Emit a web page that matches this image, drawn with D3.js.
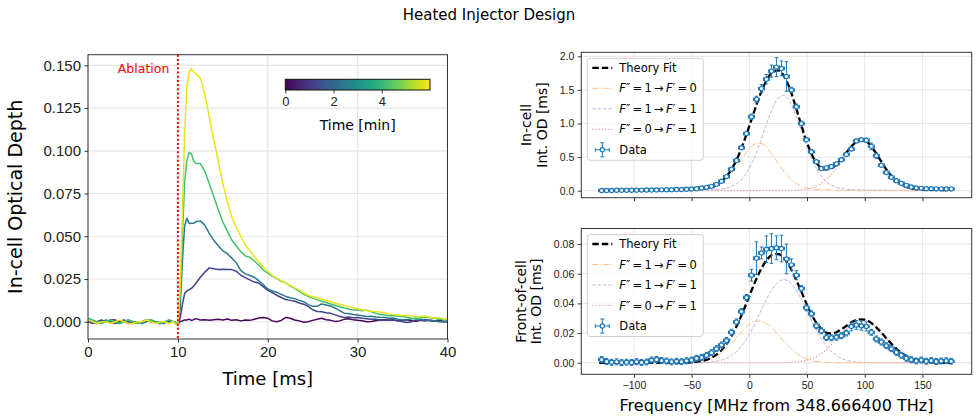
<!DOCTYPE html>
<html>
<head>
<meta charset="utf-8">
<script src="https://cdn.jsdelivr.net/npm/d3@7"></script>
<style>
  body { margin: 0; background: #fff; }
  svg { font-family: "DejaVu Sans", sans-serif; }
  .tick line { stroke: #333; }
  .tick text { fill: #222; }
</style>
</head>
<body>
<svg id="fig" width="979" height="416"></svg>
<script>
// ---------------- left panel: in-cell optical depth traces ----------------
const timeMs = [0,0.5,1,1.5,2,2.5,3,3.5,4,4.5,5,5.5,6,6.5,7,7.5,8,8.5,9,9.5,
  10,10.25,10.5,10.75,11,11.25,11.5,11.75,
  12,12.5,13,13.5,14,14.5,15,15.5,16,16.5,17,17.5,18,18.5,19,19.5,20,20.5,21,21.5,22,22.5,23,23.5,24,24.5,
  25,25.5,26,26.5,27,27.5,28,28.5,29,29.5,30,30.5,31,31.5,32,32.5,33,33.5,34,34.5,35,35.5,36,36.5,37,37.5,38,38.5,39,39.5,40];

// minutes after start for each trace (colour from viridis)
const scanMinutes = [0.1, 1.2, 2.4, 4.2, 5.8];

const odScanA = [0.000,0.000,-0.001,0.000,0.000,0.001,0.001,0.000,0.000,-0.001,0.000,0.000,0.000,0.001,0.000,0.000,-0.001,0.000,0.000,0.000,
  -0.001,0.000,0.0005,0.001,0.0010,0.0015,0.0008,0.0012,
  0.0018,0.0010,0.0012,0.0008,0.0012,0.0015,0.0010,0.0016,0.0008,0.0012,0.0005,0.0010,0.0008,0.0015,0.0022,0.0025,0.0020,0.0005,0.0000,0.0008,0.0025,0.0020,0.0010,0.0005,-0.0003,0.0000,
  0.0008,0.0015,0.0020,0.0012,0.0008,0.0002,0.0005,0.0014,0.0018,0.0012,0.0008,0.0006,0.0000,0.0002,0.0006,0.0010,0.0012,0.0008,0.0010,0.0005,0.0008,0.0012,0.0006,0.0003,0.0008,0.0012,0.0006,0.0004,0.0008,0.0005,0.0003];

const odScanB = [0.000,-0.001,0.000,0.001,0.000,0.000,-0.001,0.000,0.001,0.000,-0.001,0.000,0.000,0.001,0.000,0.000,-0.001,0.000,0.000,0.000,
  -0.002,0.002,0.010,0.0165,0.018,0.0187,0.0195,0.0208,
  0.0225,0.026,0.029,0.0315,0.031,0.0305,0.0307,0.0306,0.0305,0.0295,0.0272,0.0258,0.0245,0.0232,0.0226,0.0205,0.0183,0.0170,0.0155,0.0142,0.0130,0.0125,0.0120,0.0110,0.0102,0.0090,
  0.0070,0.0060,0.0058,0.0052,0.0049,0.0040,0.0032,0.0025,0.0028,0.0024,0.0025,0.0020,0.0018,0.0014,0.0014,0.0010,0.0012,0.0008,0.0010,0.0006,0.0000,-0.0005,0.0000,0.0010,0.0008,0.0004,0.0010,0.0006,0.0002,0.0000,-0.0002];

const odScanC = [0.001,0.000,-0.001,0.000,0.001,0.000,0.000,-0.001,0.000,0.001,0.000,0.000,-0.001,0.000,0.001,0.000,0.000,-0.001,0.001,0.000,
  -0.001,0.008,0.035,0.056,0.0605,0.0575,0.0576,0.0576,
  0.0585,0.059,0.0565,0.0515,0.0476,0.0445,0.0415,0.0398,0.0372,0.0345,0.0300,0.0280,0.0270,0.0260,0.0240,0.0218,0.0192,0.0180,0.0172,0.0160,0.0148,0.0140,0.0135,0.0125,0.0117,0.0100,
  0.0090,0.0090,0.0104,0.0098,0.0092,0.0080,0.0065,0.0050,0.0048,0.0042,0.0040,0.0035,0.0030,0.0032,0.0028,0.0026,0.0025,0.0020,0.0022,0.0015,0.0010,0.0012,0.0018,0.0020,0.0014,0.0010,0.0008,0.0004,0.0002,0.0000,0.0000];

const odScanD = [0.002,0.001,0.000,-0.001,0.000,0.001,0.000,-0.001,0.000,0.001,0.000,-0.001,0.000,0.001,0.001,0.000,-0.001,0.000,0.001,0.000,
  -0.001,0.015,0.050,0.082,0.094,0.099,0.0985,0.094,
  0.0925,0.0925,0.088,0.0805,0.0731,0.0654,0.0585,0.053,0.0478,0.0443,0.041,0.0385,0.0377,0.0355,0.0332,0.0302,0.0285,0.0265,0.0254,0.0236,0.0228,0.0208,0.0195,0.0178,0.0160,0.0148,
  0.0138,0.0128,0.0120,0.0112,0.0104,0.0096,0.0088,0.0080,0.0075,0.0068,0.0070,0.0064,0.0068,0.0060,0.0050,0.0042,0.0040,0.0035,0.0036,0.0032,0.0030,0.0026,0.0020,0.0018,0.0022,0.0026,0.0025,0.0020,0.0016,0.0012,0.0010];

const odScanE = [0.001,0.000,-0.001,0.000,0.000,-0.001,0.000,0.001,0.000,-0.001,-0.001,0.000,0.000,0.001,0.000,-0.001,0.000,0.000,-0.001,0.000,
  -0.002,0.020,0.062,0.110,0.138,0.146,0.148,0.146,
  0.145,0.1425,0.133,0.1195,0.1063,0.0935,0.081,0.070,0.0614,0.055,0.050,0.045,0.0415,0.038,0.035,0.032,0.0295,0.027,0.0254,0.0240,0.0225,0.0213,0.0198,0.0186,0.0168,0.0155,
  0.0146,0.0140,0.0132,0.0124,0.0117,0.0108,0.0102,0.0095,0.0090,0.0082,0.0076,0.0070,0.0066,0.0062,0.0060,0.0057,0.0052,0.0046,0.0042,0.0040,0.0036,0.0037,0.0033,0.0030,0.0031,0.0034,0.0026,0.0022,0.0024,0.0018,0.0015];

const odTicks = [0, 0.025, 0.05, 0.075, 0.1, 0.125, 0.15];
const timeTicks = [0, 10, 20, 30, 40];
const minuteTicks = [0, 2, 4];

// ---------------- right panels: spectra ----------------
const freqMHz = [-128.00,-123.67,-119.34,-115.01,-110.69,-106.36,-102.03,-97.70,-93.37,-89.04,
  -84.71,-80.39,-76.06,-71.73,-67.40,-63.07,-58.74,-54.41,-50.09,-45.76,
  -41.43,-37.10,-32.77,-28.44,-24.11,-19.79,-15.46,-11.13,-6.80,-2.47,
  1.86,6.19,10.51,14.84,19.17,23.50,27.83,32.16,36.49,40.81,
  45.14,49.47,53.80,58.13,62.46,66.79,71.11,75.44,79.77,84.10,
  88.43,92.76,97.09,101.41,105.74,110.07,114.40,118.73,123.06,127.39,
  131.71,136.04,140.37,144.70,149.03,153.36,157.69,162.01,166.34,170.67,175.00];
const freqErr = 2.6;

const inCellOD = [0.004,0.005,0.005,0.006,0.006,0.007,0.007,0.008,0.009,0.010,
  0.010,0.012,0.013,0.014,0.016,0.017,0.019,0.021,0.025,0.031,
  0.040,0.050,0.065,0.095,0.140,0.210,0.320,0.450,0.640,0.850,
  1.100,1.360,1.520,1.660,1.780,1.840,1.820,1.700,1.500,1.250,
  1.000,0.760,0.580,0.430,0.330,0.340,0.360,0.400,0.460,0.540,
  0.620,0.740,0.760,0.750,0.660,0.520,0.380,0.270,0.200,0.150,
  0.110,0.080,0.055,0.040,0.035,0.030,0.030,0.028,0.028,0.027,0.028];
const inCellErr = [0.012,0.012,0.012,0.012,0.012,0.012,0.012,0.012,0.012,0.012,
  0.012,0.012,0.012,0.012,0.012,0.012,0.012,0.012,0.012,0.012,
  0.02,0.02,0.02,0.02,0.02,0.02,0.02,0.02,0.02,0.02,
  0.04,0.045,0.06,0.07,0.09,0.14,0.11,0.22,0.04,0.04,
  0.035,0.03,0.025,0.025,0.025,0.025,0.025,0.025,0.025,0.025,
  0.025,0.025,0.025,0.03,0.05,0.04,0.02,0.02,0.02,0.02,
  0.015,0.015,0.015,0.015,0.015,0.015,0.015,0.015,0.015,0.015,0.015];

const frontOD = [0.0022,0.0008,0.0003,0.0006,0.0001,0.0004,0.0002,0.0007,0.0002,0.0005,
  0.0018,0.0022,0.0015,0.0012,0.0006,0.0010,0.0007,0.0013,0.0018,0.0030,
  0.0036,0.0050,0.0068,0.0095,0.0120,0.0150,0.0205,0.0275,0.0345,0.0440,
  0.0590,0.0705,0.0740,0.0765,0.0770,0.0775,0.0770,0.0700,0.0660,0.0590,
  0.0500,0.0370,0.0330,0.0250,0.0215,0.0170,0.0168,0.0172,0.0182,0.0200,
  0.0245,0.0255,0.0250,0.0245,0.0205,0.0160,0.0140,0.0115,0.0095,0.0070,
  0.0050,0.0030,0.0020,0.0012,0.0018,0.0010,0.0015,0.0008,0.0012,0.0014,0.0010];
const frontErr = [0.002,0.002,0.002,0.002,0.002,0.002,0.002,0.002,0.002,0.002,
  0.002,0.002,0.002,0.002,0.002,0.002,0.002,0.002,0.002,0.002,
  0.002,0.002,0.002,0.002,0.002,0.002,0.002,0.002,0.002,0.002,
  0.004,0.011,0.004,0.009,0.010,0.008,0.009,0.010,0.004,0.003,
  0.002,0.002,0.002,0.002,0.002,0.002,0.002,0.002,0.002,0.002,
  0.003,0.003,0.003,0.003,0.002,0.002,0.002,0.002,0.002,0.002,
  0.002,0.002,0.002,0.002,0.002,0.002,0.002,0.002,0.002,0.002,0.002];

// theory curves, read on a 5 MHz grid
const fitFreq = [-130,-125,-120,-115,-110,-105,-100,-95,-90,-85,-80,-75,-70,-65,-60,-55,-50,-45,-40,-35,-30,-25,-20,-15,-10,-5,
  0,5,10,15,20,25,30,35,40,45,50,55,60,65,70,75,80,85,90,95,100,105,110,115,120,125,130,135,140,145,150,155,160,165,170,175];

const inCellFit = [0.0047,0.0049,0.0054,0.0058,0.0062,0.0067,0.0072,0.0078,0.0085,0.0093,0.0105,0.0115,0.0126,0.0141,0.0159,0.0178,0.0207,0.0258,0.0344,0.0495,0.0776,0.1277,0.2089,0.330,0.4992,0.7145,
  0.9617,1.219,1.4563,1.6457,1.7642,1.7908,1.7074,1.5215,1.2625,0.978,0.714,0.508,0.375,0.319,0.326,0.381,0.478,0.587,0.6855,0.748,0.7458,0.674,0.5536,0.4165,0.2875,0.1847,0.1119,0.0652,0.0387,0.0241,0.0176,0.0137,0.0113,0.0099,0.009,0.0081];
const inCellF10 = [0.002,0.002,0.0023,0.0025,0.0027,0.003,0.0032,0.0035,0.0038,0.0043,0.005,0.0055,0.006,0.007,0.008,0.009,0.011,0.015,0.022,0.035,0.060,0.102,0.169,0.263,0.381,0.510,
  0.625,0.697,0.704,0.644,0.535,0.407,0.285,0.186,0.114,0.067,0.039,0.024,0.016,0.012,0.009,0.008,0.007,0.006,0.0055,0.005,0.0043,0.0038,0.0035,0.0032,0.003,0.0027,0.0025,0.0023,0.0022,0.002,0.0018,0.0017,0.0016,0.0015,0.0014,0.0013];
const inCellF11 = [0.0022,0.0024,0.0025,0.0027,0.0029,0.003,0.0033,0.0036,0.0039,0.0042,0.0046,0.0051,0.0056,0.0061,0.0068,0.0077,0.0085,0.0095,0.011,0.013,0.016,0.024,0.038,0.065,0.116,0.202,
  0.334,0.519,0.749,0.998,1.225,1.379,1.417,1.329,1.140,0.899,0.653,0.439,0.274,0.162,0.092,0.053,0.031,0.021,0.015,0.012,0.0105,0.0092,0.0081,0.0073,0.0065,0.006,0.0054,0.0049,0.0045,0.0041,0.0038,0.0035,0.0032,0.003,0.0028,0.0026];
const inCellF01 = [0.0005,0.0005,0.0006,0.0006,0.0006,0.0007,0.0007,0.0007,0.0008,0.0008,0.0009,0.0009,0.001,0.001,0.0011,0.0011,0.0012,0.0013,0.0014,0.0015,0.0016,0.0017,0.0019,0.002,0.0022,0.0025,
  0.0027,0.003,0.0033,0.0037,0.0042,0.0048,0.0054,0.0065,0.0085,0.012,0.022,0.045,0.085,0.145,0.225,0.32,0.44,0.56,0.665,0.731,0.731,0.661,0.542,0.406,0.278,0.176,0.104,0.058,0.032,0.018,0.012,0.0085,0.0065,0.0054,0.0048,0.0042];

const frontFit = [0,0,0,0,0,0,0,0,0,0,0,0,0,0,0,0.0001,0.0003,0.0007,0.0014,0.0026,0.0046,0.0077,0.0124,0.0186,0.0263,0.0353,
  0.045,0.0545,0.0628,0.0692,0.0728,0.0733,0.0704,0.0649,0.0569,0.0481,0.039,0.0309,0.0249,0.021,0.0197,0.0204,0.0227,0.0253,0.0279,0.0292,0.029,0.0272,0.0238,0.0198,0.0154,0.0113,0.0077,0.005,0.003,0.0017,0.001,0.0004,0.0002,0.0001,0,0];
const frontF10 = [0,0,0,0,0,0,0,0,0,0,0,0,0,0,0,0.0001,0.0003,0.0006,0.0012,0.0022,0.0038,0.0062,0.0095,0.0136,0.018,0.0223,
  0.0258,0.0279,0.028,0.0263,0.0231,0.0189,0.0144,0.0103,0.0068,0.0042,0.0025,0.0013,0.0007,0.0003,0.0001,0,0,0,0,0,0,0,0,0,0,0,0,0,0,0,0,0,0,0,0,0];
const frontF11 = [0,0,0,0,0,0,0,0,0,0,0,0,0,0,0,0,0,0.0001,0.0002,0.0004,0.0008,0.0015,0.0029,0.005,0.0083,0.013,
  0.0192,0.0266,0.0348,0.0429,0.0497,0.0544,0.056,0.0544,0.0497,0.0429,0.0348,0.0266,0.0192,0.013,0.0083,0.005,0.0029,0.0015,0.0008,0.0004,0.0002,0.0001,0,0,0,0,0,0,0,0,0,0,0,0,0,0];
const frontF01 = [0,0,0,0,0,0,0,0,0,0,0,0,0,0,0,0,0,0,0,0,0,0,0,0,0,0,
  0,0,0,0,0,0,0,0.0002,0.0004,0.001,0.0017,0.003,0.005,0.0077,0.0113,0.0154,0.0198,0.0238,0.0271,0.0288,0.0288,0.0271,0.0238,0.0198,0.0154,0.0113,0.0077,0.005,0.003,0.0017,0.001,0.0004,0.0002,0.0001,0,0];

const freqTicks = [-100, -50, 0, 50, 100, 150];
const inCellTicks = [0, 0.5, 1.0, 1.5, 2.0];
const frontTicks = [0, 0.02, 0.04, 0.06, 0.08];

const svg = d3.select('#fig');
const GRID = '#e5e5e5';
const SPINE = '#333';

svg.append('text')
    .attr('x', 489).attr('y', 20)
    .attr('text-anchor', 'middle')
    .style('font-size', '15px')
    .text('Heated Injector Design');

// draw the four spines of an axes box
function drawFrame(g, x0, x1, y0, y1) {
  g.append('rect')
      .attr('x', x0).attr('y', y0)
      .attr('width', x1 - x0).attr('height', y1 - y0)
      .attr('fill', 'none')
      .attr('stroke', SPINE)
      .attr('stroke-width', 1);
}

// ---------------- left panel ----------------
(function drawTraces() {
  const x = d3.scaleLinear().domain([0, 40]).range([88, 447.5]);
  const y = d3.scaleLinear().domain([-0.0101, 0.1562]).range([339, 54.7]);
  const [x0, x1] = x.range();
  const [y1, y0] = y.range();
  const g = svg.append('g');

  // grid
  g.append('g').selectAll('line').data(timeTicks).join('line')
      .attr('x1', d => x(d)).attr('x2', d => x(d))
      .attr('y1', y0).attr('y2', y1)
      .attr('stroke', GRID).attr('stroke-width', 1.2);
  g.append('g').selectAll('line').data(odTicks).join('line')
      .attr('x1', x0).attr('x2', x1)
      .attr('y1', d => y(d)).attr('y2', d => y(d))
      .attr('stroke', GRID).attr('stroke-width', 1.2);

  g.append('clipPath').attr('id', 'clipL')
    .append('rect').attr('x', x0).attr('y', y0).attr('width', x1 - x0).attr('height', y1 - y0);

  const traces = [odScanA, odScanB, odScanC, odScanD, odScanE].map((vals, i) => ({
    minutes: scanMinutes[i],
    points: timeMs.map((t, j) => [t, vals[j]])
  }));
  const color = d3.scaleSequential(d3.interpolateViridis).domain([0, 6]);
  const line = d3.line().x(d => x(d[0])).y(d => y(d[1]));

  g.append('g').attr('clip-path', 'url(#clipL)')
    .selectAll('path').data(traces).join('path')
      .attr('d', d => line(d.points))
      .attr('fill', 'none')
      .attr('stroke', d => color(d.minutes))
      .attr('stroke-width', 1.5)
      .attr('stroke-linejoin', 'round');

  // ablation marker
  g.append('line')
      .attr('x1', x(10)).attr('x2', x(10))
      .attr('y1', y0).attr('y2', y1)
      .attr('stroke', 'red').attr('stroke-width', 2)
      .attr('stroke-dasharray', '2,2.2');
  g.append('text')
      .attr('x', x(9.05)).attr('y', y(0.1455))
      .attr('text-anchor', 'end')
      .attr('fill', 'red')
      .style('font-size', '12.5px')
      .text('Ablation');

  // axes
  const yAxis = d3.axisLeft(y).tickValues(odTicks).tickFormat(d3.format('.3f'))
      .tickSize(3.5).tickPadding(3.5);
  const xAxis = d3.axisBottom(x).tickValues(timeTicks).tickFormat(d3.format('d'))
      .tickSize(3.5).tickPadding(3.5);
  g.append('g').attr('transform', `translate(${x0},0)`).call(yAxis)
      .call(a => a.select('.domain').remove())
      .selectAll('text').style('font-size', '15px').attr('font-family', null);
  g.append('g').attr('transform', `translate(0,${y1})`).call(xAxis)
      .call(a => a.select('.domain').remove())
      .selectAll('text').style('font-size', '15px').attr('font-family', null);
  drawFrame(g, x0, x1, y0, y1);

  g.append('text')
      .attr('transform', `translate(21.5,${(y0 + y1) / 2}) rotate(-90)`)
      .attr('text-anchor', 'middle')
      .style('font-size', '19px')
      .text('In-cell Optical Depth');
  g.append('text')
      .attr('x', (x0 + x1) / 2).attr('y', 385)
      .attr('text-anchor', 'middle')
      .style('font-size', '18px')
      .text('Time [ms]');

  // colorbar inset
  const cb = { x0: 285.3, x1: 430, y0: 79.3, y1: 90 };
  const cbScale = d3.scaleLinear().domain([0, 6]).range([cb.x0, cb.x1]);
  const grad = svg.append('defs').append('linearGradient').attr('id', 'viridis');
  grad.selectAll('stop').data(d3.range(0, 1.0001, 0.05)).join('stop')
      .attr('offset', d => `${d * 100}%`)
      .attr('stop-color', d => d3.interpolateViridis(d));
  g.append('rect')
      .attr('x', cb.x0).attr('y', cb.y0)
      .attr('width', cb.x1 - cb.x0).attr('height', cb.y1 - cb.y0)
      .attr('fill', 'url(#viridis)')
      .attr('stroke', '#111').attr('stroke-width', 1);
  const cbAxis = d3.axisBottom(cbScale).tickValues(minuteTicks).tickFormat(d3.format('d'))
      .tickSize(3.5).tickPadding(3);
  g.append('g').attr('transform', `translate(0,${cb.y1})`).call(cbAxis)
      .call(a => a.select('.domain').remove())
      .selectAll('text').style('font-size', '13px').attr('font-family', null);
  g.append('text')
      .attr('x', (cb.x0 + cb.x1) / 2).attr('y', 130)
      .attr('text-anchor', 'middle')
      .style('font-size', '14px')
      .text('Time [min]');
})();

// ---------------- right panels ----------------
class SpectrumPanel {

  constructor(_config, _data) {
    this.config = {
      top: _config.top,
      bottom: _config.bottom,
      yDomain: _config.yDomain,
      yTicks: _config.yTicks,
      yFormat: _config.yFormat,
      yLabel: _config.yLabel,
      yLabelX: _config.yLabelX,
      showXLabels: _config.showXLabels || false,
      id: _config.id
    };
    this.data = _data;
    this.initVis();
  }

  initVis() {
    let vis = this;
    vis.x = d3.scaleLinear().domain([-145.6, 192.7]).range([581.3, 971.7]);
    vis.y = d3.scaleLinear().domain(vis.config.yDomain).range([vis.config.bottom, vis.config.top]);
    vis.g = svg.append('g');
    vis.renderVis();
  }

  renderVis() {
    let vis = this;
    const x = vis.x, y = vis.y;
    const [x0, x1] = x.range();
    const y0 = vis.config.top, y1 = vis.config.bottom;
    const g = vis.g;
    const d = vis.data;

    // grid
    g.append('g').selectAll('line').data(freqTicks).join('line')
        .attr('x1', t => x(t)).attr('x2', t => x(t))
        .attr('y1', y0).attr('y2', y1)
        .attr('stroke', GRID).attr('stroke-width', 1);
    g.append('g').selectAll('line').data(vis.config.yTicks).join('line')
        .attr('x1', x0).attr('x2', x1)
        .attr('y1', t => y(t)).attr('y2', t => y(t))
        .attr('stroke', GRID).attr('stroke-width', 1);

    g.append('clipPath').attr('id', vis.config.id)
      .append('rect').attr('x', x0).attr('y', y0).attr('width', x1 - x0).attr('height', y1 - y0);
    const plot = g.append('g').attr('clip-path', `url(#${vis.config.id})`);

    const line = d3.line().x(p => x(p[0])).y(p => y(p[1])).curve(d3.curveMonotoneX);
    const pts = vals => fitFreq.map((f, i) => [f, vals[i]]);

    // components first, then total fit
    const curves = [
      { vals: d.f01, stroke: '#ea9393', width: 1.2, dash: '1.2,2' },
      { vals: d.f11, stroke: '#c9b3de', width: 1, dash: '3.7,1.6' },
      { vals: d.f10, stroke: '#ffbf86', width: 1, dash: '6.4,1.6,1,1.6' },
      { vals: d.fit, stroke: '#000', width: 2.3, dash: '6.5,3' }
    ];
    plot.selectAll('path.fit').data(curves).join('path')
        .attr('class', 'fit')
        .attr('d', c => line(pts(c.vals)))
        .attr('fill', 'none')
        .attr('stroke', c => c.stroke)
        .attr('stroke-width', c => c.width)
        .attr('stroke-dasharray', c => c.dash);

    // data with error bars
    const rows = freqMHz.map((f, i) => ({ f: f, v: d.od[i], e: d.err[i] }));
    const cap = 1.8;
    const pt = plot.selectAll('g.pt').data(rows).join('g').attr('class', 'pt')
        .attr('stroke', '#1f77b4').attr('stroke-width', 1);
    pt.append('line')
        .attr('x1', r => x(r.f - freqErr)).attr('x2', r => x(r.f + freqErr))
        .attr('y1', r => y(r.v)).attr('y2', r => y(r.v));
    pt.append('line')
        .attr('x1', r => x(r.f)).attr('x2', r => x(r.f))
        .attr('y1', r => y(r.v - r.e)).attr('y2', r => y(r.v + r.e));
    pt.append('path')
        .attr('d', r => {
          const xl = x(r.f - freqErr), xr = x(r.f + freqErr), xc = x(r.f);
          const yc = y(r.v), yt = y(r.v + r.e), yb = y(r.v - r.e);
          return `M${xl},${yc - cap}V${yc + cap}M${xr},${yc - cap}V${yc + cap}` +
                 `M${xc - cap},${yt}H${xc + cap}M${xc - cap},${yb}H${xc + cap}`;
        })
        .attr('fill', 'none');
    pt.append('circle')
        .attr('cx', r => x(r.f)).attr('cy', r => y(r.v))
        .attr('r', 2.1)
        .attr('fill', '#fff')
        .attr('stroke-width', 1.2);

    // axes
    const yAxis = d3.axisLeft(y).tickValues(vis.config.yTicks).tickFormat(d3.format(vis.config.yFormat))
        .tickSize(3.5).tickPadding(3.5);
    const xAxis = d3.axisBottom(x).tickValues(freqTicks)
        .tickFormat(vis.config.showXLabels ? d3.format('d') : '')
        .tickSize(3.5).tickPadding(3.5);
    g.append('g').attr('transform', `translate(${x0},0)`).call(yAxis)
        .call(a => a.select('.domain').remove())
        .selectAll('text').style('font-size', '10.5px').attr('font-family', null);
    g.append('g').attr('transform', `translate(0,${y1})`).call(xAxis)
        .call(a => a.select('.domain').remove())
        .selectAll('text').style('font-size', '10.5px').attr('font-family', null);
    drawFrame(g, x0, x1, y0, y1);

    const lab = g.append('text')
        .attr('transform', `translate(${vis.config.yLabelX},${(y0 + y1) / 2}) rotate(-90)`)
        .attr('text-anchor', 'middle')
        .style('font-size', '14px');
    lab.append('tspan').attr('x', 0).attr('dy', 0).text(vis.config.yLabel[0]);
    lab.append('tspan').attr('x', 0).attr('dy', 15.8).text(vis.config.yLabel[1]);

    vis.renderLegend(x0 + 6, y0 + 6);
  }

  renderLegend(lx, ly) {
    let vis = this;
    const g = vis.g.append('g').attr('transform', `translate(${lx},${ly})`);
    g.append('rect')
        .attr('width', 116).attr('height', 102).attr('rx', 3)
        .attr('fill', '#fff').attr('fill-opacity', 0.8)
        .attr('stroke', '#d0d0d0').attr('stroke-width', 1);

    const entries = [
      { label: ['Theory Fit'], stroke: '#000', width: 2.3, dash: '6.5,3' },
      { label: ['1', '0'], stroke: '#ffbf86', width: 1, dash: '6.4,1.6,1,1.6' },
      { label: ['1', '1'], stroke: '#c9b3de', width: 1, dash: '3.7,1.6' },
      { label: ['0', '1'], stroke: '#ea9393', width: 1.2, dash: '1.2,2' },
      { label: ['Data'] }
    ];
    const thin = '\u2009';
    entries.forEach((e, i) => {
      const cy = 9.5 + i * 20.5;
      if (e.stroke) {
        g.append('line')
            .attr('x1', 5).attr('x2', 25).attr('y1', cy).attr('y2', cy)
            .attr('stroke', e.stroke).attr('stroke-width', e.width)
            .attr('stroke-dasharray', e.dash);
      } else {
        const h = g.append('g').attr('stroke', '#1f77b4').attr('stroke-width', 1);
        h.append('path').attr('fill', 'none')
            .attr('d', `M8,${cy}H22M8,${cy - 2}V${cy + 2}M22,${cy - 2}V${cy + 2}` +
                       `M15,${cy - 7}V${cy + 7}M13,${cy - 7}H17M13,${cy + 7}H17`);
        h.append('circle').attr('cx', 15).attr('cy', cy).attr('r', 2.1)
            .attr('fill', '#fff').attr('stroke-width', 1.2);
      }
      const t = g.append('text').attr('x', 32).attr('y', cy + 4).style('font-size', '11.5px');
      if (e.label.length === 1) {
        t.text(e.label[0]);
      } else {
        // transition label in the style of mathtext, with thin spaces
        t.append('tspan').style('font-style', 'italic').text('F');
        t.append('tspan').text(`\u2033${thin}=${thin}${e.label[0]}${thin}\u2192${thin}`);
        t.append('tspan').style('font-style', 'italic').text('F');
        t.append('tspan').text(`\u2032${thin}=${thin}${e.label[1]}`);
      }
    });
  }
}

new SpectrumPanel({
  id: 'clipTop', top: 52.3, bottom: 197.7,
  yDomain: [-0.104, 2.06], yTicks: inCellTicks, yFormat: '.1f',
  yLabel: ['In-cell', 'Int. OD [ms]'], yLabelX: 531
}, { od: inCellOD, err: inCellErr, fit: inCellFit, f10: inCellF10, f11: inCellF11, f01: inCellF01 });

new SpectrumPanel({
  id: 'clipBottom', top: 228.5, bottom: 374.3,
  yDomain: [-0.0078, 0.0905], yTicks: frontTicks, yFormat: '.2f',
  yLabel: ['Front-of-cell', 'Int. OD [ms]'], yLabelX: 525.5, showXLabels: true
}, { od: frontOD, err: frontErr, fit: frontFit, f10: frontF10, f11: frontF11, f01: frontF01 });

svg.append('text')
    .attr('x', 776.5).attr('y', 411)
    .attr('text-anchor', 'middle')
    .style('font-size', '16px')
    .text('Frequency [MHz from 348.666400 THz]');
</script>
</body>
</html>
